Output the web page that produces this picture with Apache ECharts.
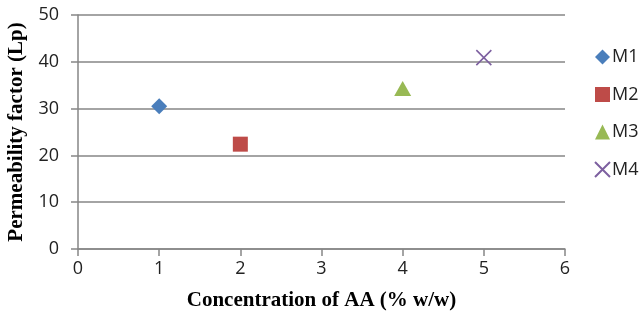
<!DOCTYPE html>
<html><head><meta charset="utf-8">
<script src="https://cdn.jsdelivr.net/npm/echarts@6/dist/echarts.min.js"></script>
<style>html,body{margin:0;padding:0;background:#fff}#c{width:639px;height:323px}</style>
</head><body><div id="c"></div>
<script>
const seriesNames = ['M1', 'M2', 'M3', 'M4'];
const xValues = [1, 2, 4, 5];
const yValues = [30.5, 22.4, 34.3, 40.9];
const colors = ['#4a7ebb', '#be4b48', '#98b954', '#7d60a0'];
const symbols = ['diamond', 'rect', 'triangle', 'path://M0,0L10,10M10,0L0,10'];
const sizes = [[16, 16], [15, 15], [17, 15], [15, 15]];

const chart = echarts.init(document.getElementById('c'));
const series = seriesNames.map((n, i) => ({
  name: n,
  type: 'scatter',
  data: [[xValues[i], yValues[i]]],
  symbol: symbols[i],
  symbolSize: sizes[i],
  itemStyle: i === 3 ? { color: 'rgba(0,0,0,0)', borderColor: colors[i], borderWidth: 1.6, opacity: 1 } : { color: colors[i], opacity: 1 },
  emphasis: { disabled: true }
}));
chart.setOption({
  animation: false,
  grid: { left: 78, right: 74, top: 15, bottom: 74, containLabel: false, outerBoundsMode: 'none' },
  xAxis: {
    type: 'value', min: 0, max: 6, interval: 1,
    name: 'Concentration of AA (% w/w)', nameLocation: 'middle', nameGap: 41,
    nameTextStyle: { fontFamily: 'Liberation Serif', fontWeight: 'bold', fontSize: 21, color: '#000' },
    axisLine: { show: true, lineStyle: { color: '#868686', width: 1.5 } },
    axisTick: { show: true, length: 7, lineStyle: { color: '#868686', width: 1.5 } },
    axisLabel: { fontFamily: 'Open Sans', fontSize: 18, color: '#222', margin: 11 },
    splitLine: { show: false }
  },
  yAxis: {
    type: 'value', min: 0, max: 50, interval: 10,
    name: 'Permeability factor (Lp)', nameLocation: 'middle', nameGap: 50,
    nameTextStyle: { fontFamily: 'Liberation Serif', fontWeight: 'bold', fontSize: 21, color: '#000' },
    axisLine: { show: true, lineStyle: { color: '#868686', width: 1.5 } },
    axisTick: { show: true, length: 7, lineStyle: { color: '#868686', width: 1.5 } },
    axisLabel: { fontFamily: 'Open Sans', fontSize: 18, color: '#222', margin: 19 },
    splitLine: { show: true, lineStyle: { color: '#868686', width: 1.5 } }
  },
  legend: {
    orient: 'vertical', left: 589, top: 43,
    itemWidth: 15, itemHeight: 15, itemGap: 19.5,
    textStyle: { fontFamily: 'Open Sans', fontSize: 18, color: '#222', padding: [0, 0, 0, -3] },
    data: seriesNames
  },
  series: series
});
</script></body></html>
